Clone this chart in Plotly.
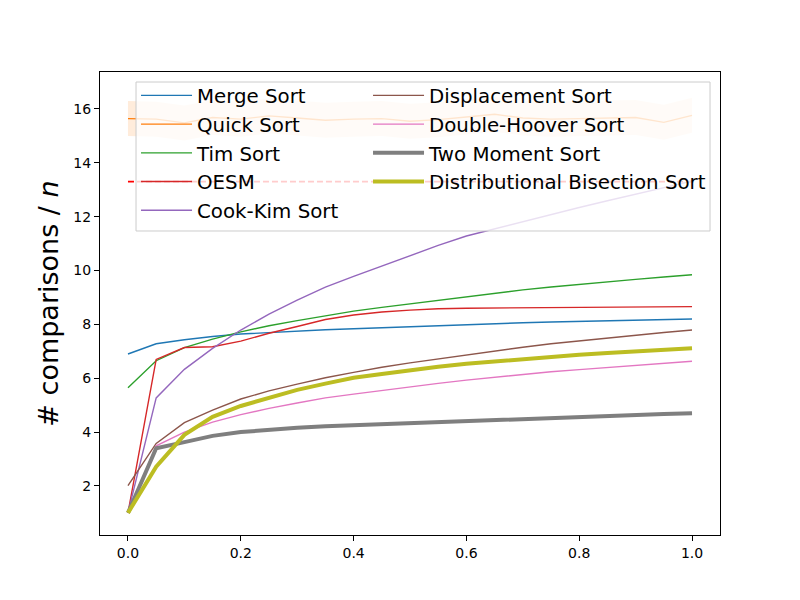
import plotly.graph_objects as go

x = [0.0, 0.05, 0.1, 0.15, 0.2, 0.25, 0.3, 0.35, 0.4, 0.45, 0.5,
     0.55, 0.6, 0.65, 0.7, 0.75, 0.8, 0.85, 0.9, 0.95, 1.0]

merge_sort = [6.90, 7.28, 7.43, 7.55, 7.64, 7.70, 7.75, 7.80, 7.84, 7.88, 7.92,
              7.96, 7.99, 8.03, 8.06, 8.09, 8.11, 8.14, 8.16, 8.18, 8.20]
quick_sort = [15.64, 15.62, 15.48, 15.68, 15.62, 15.74, 15.66, 15.58, 15.62, 15.64, 15.54,
              15.60, 15.70, 15.80, 15.66, 15.62, 15.64, 15.66, 15.68, 15.50, 15.76]
quick_sort_std = [0.65, 0.65, 0.65, 0.65, 0.65, 0.65, 0.65, 0.65, 0.65, 0.65, 0.65,
                  0.65, 0.65, 0.65, 0.65, 0.65, 0.65, 0.65, 0.65, 0.65, 0.65]
tim_sort = [5.65, 6.65, 7.14, 7.45, 7.72, 7.95, 8.14, 8.32, 8.49, 8.63, 8.76,
            8.90, 9.04, 9.15, 9.28, 9.39, 9.49, 9.58, 9.67, 9.76, 9.84]
oesm = [1.00, 6.70, 7.14, 7.17, 7.38, 7.67, 7.92, 8.18, 8.35, 8.46, 8.53,
        8.58, 8.60, 8.61, 8.62, 8.63, 8.635, 8.64, 8.65, 8.655, 8.66]
oesm_bound = 13.3
cook_kim = [1.00, 5.27, 6.33, 7.11, 7.79, 8.38, 8.90, 9.38, 9.78, 10.17, 10.56,
            10.93, 11.28, 11.55, 11.82, 12.08, 12.34, 12.59, 12.84, 13.09, 13.32]
displacement = [2.01, 3.58, 4.35, 4.82, 5.23, 5.53, 5.78, 6.02, 6.22, 6.41, 6.57,
                6.72, 6.86, 7.01, 7.15, 7.28, 7.39, 7.50, 7.60, 7.70, 7.79]
double_hoover = [1.00, 3.49, 4.00, 4.37, 4.65, 4.88, 5.08, 5.27, 5.41, 5.55, 5.68,
                 5.81, 5.93, 6.04, 6.15, 6.24, 6.32, 6.40, 6.48, 6.56, 6.63]
two_moment = [1.00, 3.40, 3.63, 3.86, 4.00, 4.09, 4.16, 4.22, 4.26, 4.30, 4.34,
              4.38, 4.42, 4.46, 4.50, 4.53, 4.56, 4.60, 4.63, 4.67, 4.70]
dist_bisection = [1.00, 2.72, 3.90, 4.57, 4.97, 5.28, 5.57, 5.80, 6.02, 6.16, 6.30,
                  6.43, 6.54, 6.63, 6.72, 6.80, 6.87, 6.94, 7.00, 7.06, 7.11]

x_ticks = [0.0, 0.2, 0.4, 0.6, 0.8, 1.0]
y_ticks = [2, 4, 6, 8, 10, 12, 14, 16]

FONT = "DejaVu Sans"
fig = go.Figure()

def add_line(y, name, color, width, legend):
    fig.add_trace(go.Scatter(x=x, y=y, mode="lines", name=name,
                             line=dict(color=color, width=width),
                             legend=legend))

add_line(merge_sort, "Merge Sort", "#1f77b4", 1.4, "legend")

# Quick sort band
hi = [m + s for m, s in zip(quick_sort, quick_sort_std)]
lo = [m - s for m, s in zip(quick_sort, quick_sort_std)]
fig.add_trace(go.Scatter(x=x + x[::-1], y=hi + lo[::-1], fill="toself",
                         fillcolor="rgba(255,127,14,0.15)", line=dict(width=0),
                         mode="lines", showlegend=False, hoverinfo="skip"))
add_line(quick_sort, "Quick Sort", "#ff7f0e", 1.4, "legend")
add_line(tim_sort, "Tim Sort", "#2ca02c", 1.4, "legend")
fig.add_trace(go.Scatter(x=[x[0], x[-1]], y=[oesm_bound, oesm_bound], mode="lines",
                         line=dict(color="#ff0000", width=1.8, dash="6px,3px"),
                         showlegend=False, hoverinfo="skip"))
add_line(oesm, "OESM", "#d62728", 1.4, "legend")
add_line(cook_kim, "Cook-Kim Sort", "#9467bd", 1.4, "legend")
add_line(displacement, "Displacement Sort", "#8c564b", 1.4, "legend2")
add_line(double_hoover, "Double-Hoover Sort", "#e377c2", 1.4, "legend2")
add_line(two_moment, "Two Moment Sort", "#7f7f7f", 4, "legend2")
add_line(dist_bisection, "Distributional Bisection Sort", "#bcbd22", 4, "legend2")

axis_common = dict(showline=True, linecolor="black", linewidth=1, mirror=True,
                   ticks="outside", ticklen=5, tickcolor="black", showgrid=False,
                   zeroline=False, automargin=False,
                   tickfont=dict(family=FONT, size=14, color="black"))

legend_common = dict(orientation="v", yanchor="top", xanchor="left", y=0.9914,
                     itemwidth=51, bgcolor="rgba(0,0,0,0)", borderwidth=0,
                     traceorder="normal",
                     font=dict(family=FONT, size=19.8, color="black"))

fig.update_layout(
    width=800, height=600,
    margin=dict(l=92, r=88, t=64, b=73),
    paper_bgcolor="white", plot_bgcolor="white",
    font=dict(family=FONT, color="black"),
    xaxis=dict(range=[-0.0496, 1.0496], tickvals=x_ticks, tickformat=".1f", **axis_common),
    yaxis=dict(range=[0.18, 17.37], tickvals=y_ticks,
               title=dict(text="# comparisons / <i>n</i>", font=dict(family=FONT, size=27),
                          standoff=6),
               **axis_common),
    legend=dict(x=0.0581, **legend_common),
    legend2=dict(x=0.4323, **legend_common),
    showlegend=True,
    shapes=[dict(type="rect", xref="paper", yref="paper",
                 x0=0.0581, x1=0.9839, y0=0.6566, y1=0.9784,
                 fillcolor="rgba(255,255,255,0.8)",
                 line=dict(color="#cccccc", width=1), layer="above")],
)

fig.write_html("out.html")
